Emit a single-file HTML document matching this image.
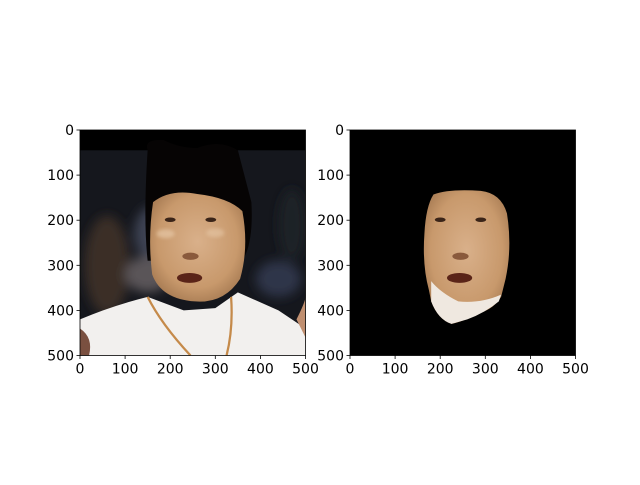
<!DOCTYPE html>
<html><head><meta charset="utf-8"><style>
body{margin:0;background:#fff}
svg text{font-family:"DejaVu Sans","Liberation Sans",sans-serif;font-size:14px;fill:#000}
</style></head><body>
<svg width="640" height="480" viewBox="0 0 640 480">
<defs>
<filter id="bl" x="-50%" y="-50%" width="200%" height="200%"><feGaussianBlur stdDeviation="12"/></filter>
<filter id="bl2" x="-20%" y="-20%" width="140%" height="140%"><feGaussianBlur stdDeviation="4"/></filter>
<clipPath id="c1"><rect x="0" y="0" width="500" height="500"/></clipPath>
<radialGradient id="skin" cx="0.5" cy="0.45" r="0.6"><stop offset="0" stop-color="#d9b08a"/><stop offset="0.7" stop-color="#c8996c"/><stop offset="1" stop-color="#a67a52"/></radialGradient>
</defs>
<g id="left" transform="translate(80,130) scale(0.451)" clip-path="url(#c1)">
<rect width="500" height="500" fill="#15171d"/>
<g filter="url(#bl)">
<ellipse cx="60" cy="300" rx="50" ry="110" fill="#3a2e28"/>
<ellipse cx="160" cy="230" rx="40" ry="60" fill="#3e4352"/>
<ellipse cx="150" cy="320" rx="50" ry="40" fill="#5a5558"/>
<ellipse cx="440" cy="330" rx="50" ry="40" fill="#2e3548"/>
<ellipse cx="470" cy="210" rx="30" ry="80" fill="#1d2028"/>
</g>
<rect width="500" height="45" fill="#000"/>
<path d="M150,45 Q140,20 185,22 Q220,40 260,40 Q310,20 350,45 L380,160 Q385,250 360,290 L150,290 Q140,200 150,45Z" fill="#060404"/>
<path d="M162,160 Q200,130 260,142 Q330,150 360,180 Q375,260 355,330 Q320,385 255,380 Q180,375 160,320 Q150,240 162,160Z" fill="url(#skin)"/>
<ellipse cx="190" cy="230" rx="20" ry="10" fill="#e6c7a6" opacity="0.7" filter="url(#bl2)"/>
<ellipse cx="300" cy="228" rx="20" ry="10" fill="#e6c7a6" opacity="0.6" filter="url(#bl2)"/>
<ellipse cx="200" cy="199" rx="12" ry="5" fill="#3a2418"/>
<ellipse cx="290" cy="199" rx="12" ry="5" fill="#3a2418"/>
<ellipse cx="245" cy="280" rx="18" ry="8" fill="#8a5a3c"/>
<ellipse cx="243" cy="328" rx="28" ry="11" fill="#5a2418"/>
<path d="M0,420 Q70,390 150,370 L230,400 L300,395 L350,360 L440,400 L500,440 L500,500 L0,500Z" fill="#f2f0ee"/>
<path d="M150,370 Q180,430 245,500 M335,370 Q340,440 325,500" stroke="#c58a4a" stroke-width="5" fill="none"/>
<path d="M0,440 Q30,460 20,500 L0,500Z" fill="#7a5040"/>
<path d="M480,420 Q500,380 500,370 L500,460 Z" fill="#c08f70"/>
</g>
<g id="right" transform="translate(350,130) scale(0.451)" clip-path="url(#c1)">
<rect width="500" height="500" fill="#000"/>
<path d="M185,143 Q220,130 290,135 Q335,140 348,185 Q360,260 345,330 L335,370 Q320,395 290,405 Q250,425 225,430 Q195,420 180,380 L175,355 Q160,300 165,230 Q168,170 185,143Z" fill="url(#skin)"/>
<path d="M180,335 Q200,360 240,380 Q290,385 335,365 L330,380 Q300,405 260,420 L225,430 Q195,420 180,380Z" fill="#efe8e0"/>
<ellipse cx="200" cy="199" rx="12" ry="5" fill="#3a2418"/>
<ellipse cx="290" cy="199" rx="12" ry="5" fill="#3a2418"/>
<ellipse cx="245" cy="280" rx="18" ry="8" fill="#8a5a3c"/>
<ellipse cx="243" cy="328" rx="28" ry="11" fill="#5a2418"/>
</g>
<g id="axes"></g>
</svg>
<script>
const ticks=[0,100,200,300,400,500];
const tickLabels=["0","100","200","300","400","500"];
const panels=[{x:80,y:130},{x:350,y:130}];
const s=0.451,ns="http://www.w3.org/2000/svg";
const g=document.getElementById('axes');
function mk(t,a){const e=document.createElementNS(ns,t);for(const k in a)e.setAttribute(k,a[k]);g.appendChild(e);return e;}
panels.forEach((p,pi)=>{
 const r=mk('rect',{x:p.x,y:p.y,width:500*s,height:500*s,fill:'none',stroke:'#000','stroke-width':0.8});
 
 
 ticks.forEach((v,i)=>{
  const xx=p.x+v*s, yy=p.y+v*s;
  const t1=mk('line',{x1:xx,x2:xx,y1:p.y+500*s,y2:p.y+500*s+3.5,stroke:'#000','stroke-width':0.8});
  
  
  const l1=mk('text',{x:xx,y:p.y+500*s+18,'text-anchor':'middle'});l1.textContent=tickLabels[i];
  
  
  const t2=mk('line',{x1:p.x-3.5,x2:p.x,y1:yy,y2:yy,stroke:'#000','stroke-width':0.8});
  
  
  const l2=mk('text',{x:p.x-6,y:yy+5,'text-anchor':'end'});l2.textContent=tickLabels[i];
  
  
 });
});
</script>
</body></html>
